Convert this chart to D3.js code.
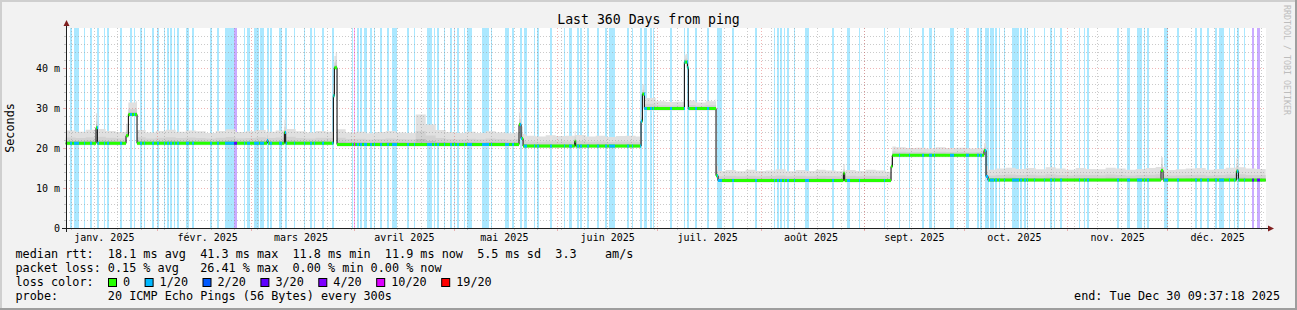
<!doctype html>
<html>
<head>
<meta charset="utf-8">
<script src="https://cdnjs.cloudflare.com/ajax/libs/d3/7.8.5/d3.min.js"></script>
<style>
  body { margin: 0; background: #f2f2f2; }
  text { font-family: "DejaVu Sans Mono", monospace; fill: #000; }
</style>
<title>Last 360 Days from ping</title>
</head>
<body>
<div id="chart-area"></div>
<script>
// ---- data -------------------------------------------------------------
var startTime = Date.UTC(2025, 0, 4, 9, 37, 18);   // 360 days before the end
var spanDays = 360;
var DAY = 86400000;

// median rtt as steps: [day from start, ms]
var medianSteps = [
  [0, 21.3], [9.1, 25.2], [9.5, 21.3],
  [18.1, 23.2], [18.8, 28.5], [21.4, 21.3],
  [60.4, 22.0], [60.7, 21.3], [65.6, 24.0], [66.0, 21.3],
  [80.3, 33.2], [80.6, 40.2], [81.4, 21.0],
  [136.0, 26.0], [136.6, 22.5], [137.2, 20.6],
  [152.7, 21.8], [153.0, 20.6],
  [172.6, 26.8], [173.0, 33.6], [173.6, 30.0],
  [185.6, 41.6], [186.5, 40.2], [186.8, 30.0],
  [195.1, 13.2], [195.7, 12.0],
  [233.3, 13.8], [233.7, 12.0],
  [247.6, 15.5], [248.0, 18.3],
  [275.5, 19.5], [276.1, 13.0], [276.7, 12.1],
  [328.6, 14.5], [329.2, 12.1],
  [351.2, 14.3], [351.8, 12.1]
];

// smoke spread above the median, ms, one value per 3 days
var smokeUp = [
  3.2, 2.9, 3.4, 3.6, 3.1, 2.8, 3.0, 3.3, 2.7, 3.1,
  3.4, 2.9, 3.2, 3.0, 2.6, 3.1, 3.5, 2.8, 3.0, 3.3,
  2.9, 3.2, 3.6, 3.0, 2.7, 3.1, 2.9, 3.8, 3.0, 3.2,
  2.8, 3.1, 3.4, 3.0, 2.9, 7.5, 5.0, 3.6, 3.1, 2.9,
  3.2, 2.9, 3.3, 3.0, 2.8, 3.0, 2.6, 2.4, 2.7, 2.5,
  2.6, 2.8, 2.4, 2.6, 2.3, 2.5, 2.6, 2.4, 2.6, 1.8,
  1.6, 1.7, 2.0, 1.5, 1.8, 2.4, 2.6, 2.3, 2.7, 2.4,
  2.5, 2.8, 2.3, 2.6, 2.4, 2.7, 2.5, 2.3, 2.6, 2.4,
  2.7, 2.5, 2.2, 2.0, 1.8, 1.9, 1.7, 2.0, 1.8, 1.9,
  1.7, 1.8, 2.6, 2.9, 3.1, 2.8, 3.0, 2.7, 3.2, 2.9,
  2.6, 3.0, 2.8, 2.7, 3.1, 2.9, 2.6, 2.8, 3.0, 3.3,
  2.5, 2.7, 2.9, 3.0, 2.6, 2.8, 3.1, 3.2, 2.9, 2.8
];

var lossLabels = ["0", "1/20", "2/20", "3/20", "4/20", "10/20", "19/20"];
var lossColors = ["#26ff00", "#00b8ff", "#0059ff", "#5e00ff", "#7e00ff", "#dd00ff", "#ff0000"];

// packet loss periods: [start day, end day, loss level index]
var lossBands = [
  [1.3,1.9,1],[2.5,4.0,1],[5.5,5.8,1],[7.3,7.9,1],[9.4,10.0,1],[11.5,11.8,1],[12.4,13.0,1],
  [16.3,16.9,1],[19.3,19.9,1],[20.5,20.8,1],[22.3,22.9,1],[23.5,23.8,1],[25.9,26.5,1],
  [27.4,28.0,1],[29.5,29.8,1],[30.4,31.0,1],[31.3,31.9,1],[32.5,32.8,1],[33.4,34.0,1],
  [36.1,37.0,1],[37.9,38.5,1],[43.3,43.9,1],[45.4,46.0,1],[47.8,50.5,1],[50.5,51.4,3],
  [53.5,53.8,1],[54.4,55.3,1],[56.5,58.0,1],[58.3,59.5,1],[60.4,61.0,1],[61.3,61.9,1],
  [64.0,64.9,1],[65.8,66.4,1],[68.5,68.8,1],[71.5,71.8,1],[73.3,73.9,1],[74.5,74.8,1],
  [76.9,77.5,1],[79.9,80.5,1],[85.9,86.2,1],[86.5,86.8,5],[87.4,88.0,1],[88.3,88.9,1],
  [89.5,90.4,1],[91.3,91.9,1],[92.5,92.8,1],[94.3,94.9,1],[96.4,97.0,1],[97.9,99.4,1],
  [102.4,103.0,1],[104.5,104.8,1],[108.4,109.9,1],[110.5,110.8,1],[111.4,112.0,1],
  [113.5,113.8,1],[115.3,115.9,1],[116.5,116.8,1],[117.4,118.0,1],[119.5,119.8,1],
  [120.4,121.9,1],[124.9,127.0,1],[127.6,127.9,1],[131.8,133.0,1],[133.9,134.5,1],
  [136.3,136.9,1],[137.5,138.4,1],[140.5,140.8,1],[141.4,142.0,1],[145.3,145.9,1],
  [149.5,149.8,1],[151.0,151.9,1],[153.4,154.0,1],[154.3,154.9,1],[156.4,157.0,1],
  [159.4,160.0,1],[161.8,162.4,1],[163.0,164.8,1],[168.4,169.0,1],[169.9,170.2,1],
  [172.3,172.9,1],[173.5,174.4,1],[175.3,175.9,1],[176.2,176.5,1],
  [181.3,181.9,1],[185.5,185.8,1],[186.4,187.0,1],[188.8,189.4,1],[192.4,193.0,1],
  [195.4,196.9,1],[199.9,200.5,1],[206.8,207.4,1],[212.5,212.8,1],[213.4,214.0,1],
  [214.3,214.9,1],[215.5,215.8,1],[216.4,217.0,1],[218.5,218.8,1],[221.8,223.0,1],
  [229.9,230.5,1],[234.4,235.3,1],[238.0,238.3,1],[245.5,245.8,1],[250.0,250.3,1],
  [253.0,253.3,1],[256.9,257.5,1],[259.0,259.9,1],[260.5,260.8,1],[265.3,266.5,1],
  [270.1,271.0,1],[273.4,274.0,1],[274.3,274.9,1],[275.8,277.0,1],[277.3,278.5,1],
  [278.8,279.4,1],[280.0,280.3,1],[281.5,281.8,1],[283.9,286.0,1],[286.3,286.9,1],
  [287.5,288.1,1],[288.4,288.7,1],[290.5,290.8,1],[293.5,293.8,1],[295.3,295.9,1],
  [296.5,296.8,1],[298.3,298.9,1],[304.0,304.3,1],[305.5,305.8,1],[306.4,307.0,1],
  [315.4,316.0,1],[318.4,319.3,1],[321.4,322.9,1],[323.5,323.8,1],[324.4,325.0,1],
  [329.5,330.7,1],[333.4,334.0,1],[338.8,339.4,1],[340.3,340.9,1],[342.4,343.0,1],
  [344.8,345.4,1],[346.0,347.5,1],[349.0,349.3,1],[350.5,350.8,1],[351.4,352.0,1],
  [353.5,353.8,1],[355.9,356.5,3],[357.4,358.3,3]
];

var monthLabels = ["janv. 2025", "févr. 2025", "mars 2025", "avril 2025", "mai 2025", "juin 2025",
  "juil. 2025", "août 2025", "sept. 2025", "oct. 2025", "nov. 2025", "déc. 2025"];
var yTicks = [0, 10, 20, 30, 40];
var yTickLabels = ["0", "10 m", "20 m", "30 m", "40 m"];

var legendLines = [
  "median rtt:  18.1 ms avg  41.3 ms max  11.8 ms min  11.9 ms now  5.5 ms sd  3.3    am/s",
  "packet loss: 0.15 % avg   26.41 % max  0.00 % min 0.00 % now",
  "loss color:",
  "probe:       20 ICMP Echo Pings (56 Bytes) every 300s"
];
var endText = "end: Tue Dec 30 09:37:18 2025";

// ---- layout -----------------------------------------------------------
var W = 1297, H = 310;
var plot = { left: 66, top: 28, right: 1266, bottom: 228 };
var cw = 7.1;   // monospace advance for the legend font
var gridCol = "rgba(150,150,150,0.5)";
var mgridCol = "rgba(222,90,90,0.45)";

var svg = d3.select("#chart-area").append("svg")
  .attr("width", W).attr("height", H);

svg.append("rect").attr("width", W).attr("height", H).attr("fill", "#f2f2f2");
// 3d frame
svg.append("path").attr("d", "M0,0H1297V2H2V310H0Z").attr("fill", "#cfcfcf");
svg.append("path").attr("d", "M1297,0V310H0V308H1295V0Z").attr("fill", "#9e9e9e");

var x = d3.scaleLinear().domain([0, spanDays]).range([65.7, 1265.7]);
var y = d3.scaleLinear().domain([0, 50]).range([228.5, 28.5]);

function dayOf(ms) { return (ms - startTime) / DAY; }
function px(d) { return Math.floor(x(d)) + 0.5; }

// canvas
svg.append("rect")
  .attr("x", plot.left).attr("y", plot.top)
  .attr("width", plot.right - plot.left).attr("height", plot.bottom - plot.top)
  .attr("fill", "#ffffff");

// loss background bars
var g = svg.append("g");
g.selectAll(".loss").data(lossBands).enter().append("rect")
  .attr("class", "loss")
  .attr("x", function(d) { return Math.round(x(d[0])); })
  .attr("width", function(d) { return Math.max(1, Math.round(x(d[1])) - Math.round(x(d[0]))); })
  .attr("y", plot.top).attr("height", plot.bottom - plot.top)
  .attr("fill", function(d) { return lossColors[d[2]]; })
  .attr("fill-opacity", 0.33)
  .attr("shape-rendering", "crispEdges");

// median helpers
function medianAt(d) {
  var v = medianSteps[0][1];
  for (var i = 0; i < medianSteps.length; i++) {
    if (medianSteps[i][0] <= d + 1e-9) v = medianSteps[i][1];
  }
  return v;
}

// smoke
var breaks = medianSteps.map(function(s) { return s[0]; });
smokeUp.forEach(function(u, i) { breaks.push(i * 3); });
breaks.push(spanDays);
breaks = Array.from(new Set(breaks)).sort(function(a, b) { return a - b; });
var smokePts = breaks.map(function(b) {
  var bin = Math.min(smokeUp.length - 1, Math.floor(b / 3));
  return { d: b, m: medianAt(b), up: smokeUp[bin] };
});

var smokeLayers = [
  { lo: 0.5, hi: 1.0, color: "#e0e0e0" },
  { lo: 0.35, hi: 0.45, color: "#d2d2d2" },
  { lo: 0.2, hi: 0.18, color: "#bdbdbd" }
];
smokeLayers.forEach(function(L) {
  var area = d3.area()
    .curve(d3.curveStepAfter)
    .x(function(p) { return x(p.d); })
    .y0(function(p) { return y(p.m - L.lo); })
    .y1(function(p) { return y(p.m + p.up * L.hi); });
  svg.append("path").attr("d", area(smokePts)).attr("fill", L.color);
});

// grid
var grid = svg.append("g").attr("fill", "none").attr("stroke-width", 1);
for (var v = 2; v < 50; v += 2) {
  var major = v % 10 === 0;
  grid.append("line")
    .attr("x1", plot.left).attr("x2", plot.right)
    .attr("y1", y(v)).attr("y2", y(v))
    .attr("stroke", major ? mgridCol : gridCol)
    .attr("stroke-dasharray", "1,2");
  grid.append("line")
    .attr("x1", major ? 63 : 64).attr("x2", 66)
    .attr("y1", y(v)).attr("y2", y(v))
    .attr("stroke", major ? mgridCol : gridCol);
}
// weekly lines (mondays)
for (var t = Date.UTC(2025, 0, 6); dayOf(t) < spanDays; t += 7 * DAY) {
  var xd = px(dayOf(t));
  grid.append("line").attr("x1", xd).attr("x2", xd)
    .attr("y1", plot.top).attr("y2", plot.bottom)
    .attr("stroke", gridCol).attr("stroke-dasharray", "1,2");
  grid.append("line").attr("x1", xd).attr("x2", xd)
    .attr("y1", plot.bottom).attr("y2", plot.bottom + 2)
    .attr("stroke", gridCol);
}
// month lines and labels
var months = d3.range(0, 13).map(function(m) { return Date.UTC(2025, m, 1); });
months.forEach(function(t, i) {
  var d = dayOf(t);
  if (d > 0 && d < spanDays) {
    var xd = px(d);
    grid.append("line").attr("x1", xd).attr("x2", xd)
      .attr("y1", plot.top).attr("y2", plot.bottom)
      .attr("stroke", mgridCol).attr("stroke-dasharray", "1,2");
    grid.append("line").attr("x1", xd).attr("x2", xd)
      .attr("y1", plot.bottom).attr("y2", plot.bottom + 3)
      .attr("stroke", mgridCol);
  }
  if (i < monthLabels.length) {
    svg.append("text")
      .attr("x", x(d + 15)).attr("y", 241)
      .attr("text-anchor", "middle")
      .attr("font-size", "10px")
      .text(monthLabels[i]);
  }
});

// median line: black steps, then loss coloured segments
var stepPts = medianSteps.concat([[spanDays, medianSteps[medianSteps.length - 1][1]]]);
var line = d3.line().curve(d3.curveStepAfter)
  .x(function(s) { return x(s[0]); })
  .y(function(s) { return y(s[1]); });
svg.append("path").attr("d", line(stepPts))
  .attr("fill", "none").attr("stroke", "#000").attr("stroke-width", 1);

function segment(d0, d1, color) {
  for (var i = 0; i < medianSteps.length; i++) {
    var s0 = medianSteps[i][0];
    var s1 = i + 1 < medianSteps.length ? medianSteps[i + 1][0] : spanDays;
    var a = Math.max(s0, d0), b = Math.min(s1, d1);
    if (b > a) {
      svg.append("line")
        .attr("x1", x(a)).attr("x2", Math.max(x(b), x(a) + 1))
        .attr("y1", y(medianSteps[i][1])).attr("y2", y(medianSteps[i][1]))
        .attr("stroke", color).attr("stroke-width", 3);
    }
  }
}
segment(0, spanDays, lossColors[0]);
lossBands.forEach(function(b) { segment(b[0], b[1], lossColors[b[2]]); });

// axes
svg.append("line").attr("x1", 62).attr("x2", 1270).attr("y1", 228.5).attr("y2", 228.5)
  .attr("stroke", "#1f1f1f");
svg.append("line").attr("x1", 66.5).attr("x2", 66.5).attr("y1", 232).attr("y2", 24)
  .attr("stroke", "#1f1f1f");
svg.append("path").attr("d", "M1268,225.5L1274,228.5L1268,231.5Z").attr("fill", "#801f1f");
svg.append("path").attr("d", "M63.5,26L66.5,20L69.5,26Z").attr("fill", "#801f1f");

// y tick labels
yTicks.forEach(function(v, i) {
  svg.append("text")
    .attr("x", 60).attr("y", y(v) + 3.5)
    .attr("text-anchor", "end")
    .attr("font-size", "10px")
    .text(yTickLabels[i]);
});

// titles
svg.append("text")
  .attr("x", 648.5).attr("y", 24)
  .attr("text-anchor", "middle")
  .attr("font-size", "13.2px")
  .text("Last 360 Days from ping");

svg.append("text")
  .attr("transform", "translate(14,128) rotate(-90)")
  .attr("text-anchor", "middle")
  .attr("font-size", "11.8px")
  .text("Seconds");

svg.append("text")
  .attr("transform", "translate(1284,5) rotate(90)")
  .attr("font-size", "8.3px")
  .style("fill", "#bdbdbd")
  .text("RRDTOOL / TOBI OETIKER");

// legend
var legendY = [258, 272, 285.5, 299.5];
legendLines.forEach(function(s, i) {
  svg.append("text")
    .attr("x", 15.5).attr("y", legendY[i])
    .attr("font-size", "11.8px")
    .style("white-space", "pre")
    .text(s);
});
svg.append("text")
  .attr("x", 1280).attr("y", legendY[3])
  .attr("text-anchor", "end")
  .attr("font-size", "11.8px")
  .text(endText);

var bx = 108.5;
lossLabels.forEach(function(lbl, i) {
  svg.append("rect")
    .attr("x", bx).attr("y", 278.5).attr("width", 8).attr("height", 8)
    .attr("fill", lossColors[i]).attr("stroke", "#000").attr("stroke-width", 1);
  var tx = bx + 14.5;
  svg.append("text")
    .attr("x", tx).attr("y", legendY[2])
    .attr("font-size", "11.8px")
    .text(lbl);
  bx = tx + lbl.length * cw + 15;
});
</script>
</body>
</html>
